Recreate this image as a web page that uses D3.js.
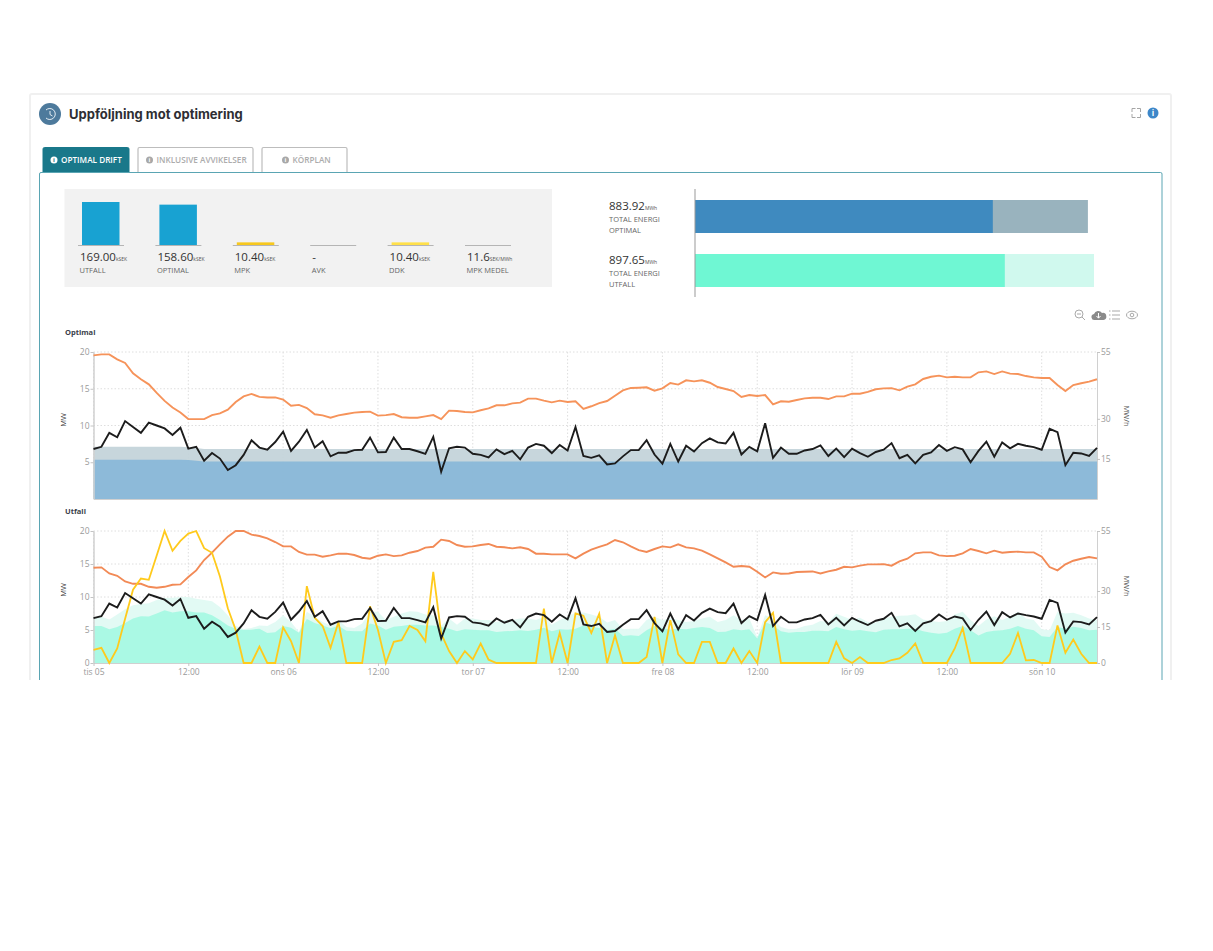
<!DOCTYPE html>
<html>
<head>
<meta charset="utf-8">
<title>Uppföljning mot optimering</title>
<script src="https://cdn.jsdelivr.net/npm/d3@7"></script>
<style>
  body { margin: 0; background: #fff; }
  svg { display: block; font-family: "Open Sans", sans-serif; }
  .tick text { fill: #9a9a9a; font-size: 8.5px; font-family: "Open Sans", sans-serif; }
  .tick line { stroke: #c4c4c4; }
  .domain { stroke: #d0d0d0; }
</style>
</head>
<body>
<div id="chart"></div>
<script>
// KPI box
const kpiNames = ["UTFALL", "OPTIMAL", "MPK", "AVK", "DDK", "MPK MEDEL"];
const kpiValues = [169.00, 158.60, 10.40, 0, 10.40, 0];
const kpiLabels = ["169.00", "158.60", "10.40", "-", "10.40", "11.6"];
const kpiUnits = ["kSEK", "kSEK", "kSEK", "", "kSEK", "SEK/MWh"];
const kpiColors = ["#18a2d2", "#18a2d2", "#f7c81e", "#f7c81e", "#ffe04a", "#ffe04a"];

// Total energy bars
const energyNames = ["OPTIMAL", "UTFALL"];
const energyTotal = [883.92, 897.65];
const energyInner = [670, 697];

// Hourly series, tis 05 00:00 onwards
const xTickHours = [0, 12, 24, 36, 48, 60, 72, 84, 96, 108, 120];
const xTickLabels = ["tis 05", "12:00", "ons 06", "12:00", "tor 07", "12:00", "fre 08", "12:00", "lör 09", "12:00", "sön 10"];

const blackLine = [
  6.8,7.1,9.0,8.4,10.6,9.8,9.0,10.4,10.0,9.6,
  8.7,9.7,6.85,7.1,5.2,6.25,5.5,3.95,4.6,6.0,
  8.0,7.0,6.7,7.75,9.15,6.55,7.8,9.4,7.0,7.85,
  5.8,6.3,6.3,6.65,6.7,8.35,6.35,6.4,8.35,6.8,
  6.8,6.5,6.15,8.45,3.7,6.9,7.1,7.0,6.15,6.0,
  5.65,6.75,6.1,6.55,5.4,7.0,7.5,7.25,6.25,7.35,
  6.6,9.8,5.85,5.6,5.95,4.7,4.85,5.8,6.65,6.65,
  8.0,6.05,4.8,7.5,5.1,7.25,6.45,7.6,8.25,7.7,
  7.55,9.0,6.05,7.1,6.5,10.3,5.6,7.0,6.15,6.15,
  6.6,6.8,7.3,5.85,6.85,5.7,6.85,6.25,5.75,6.4,
  6.7,7.6,5.55,6.0,4.85,6.0,6.35,7.35,6.55,7.05,
  6.75,5.0,6.55,7.8,5.75,7.7,6.9,7.5,7.25,7.05,
  6.7,9.55,9.1,4.6,6.3,6.2,5.85,6.95
];

const orangeOptimal = [
  53.75,54.1,54.1,52.25,50.9,47.0,44.8,42.9,39.7,36.7,
  34.2,32.4,29.9,29.9,29.9,31.4,32.05,33.4,36.3,38.4,
  39.3,38.2,38.0,38.0,37.2,34.9,35.2,34.05,31.7,31.3,
  30.4,31.3,31.8,32.3,32.55,32.7,31.2,31.4,31.8,30.6,
  30.4,30.4,30.9,31.4,29.9,33.05,32.9,32.55,32.4,33.2,
  33.9,35.05,35.05,35.8,36.05,37.55,37.55,36.8,36.15,36.8,
  36.3,36.55,33.7,34.7,35.9,36.65,38.65,40.65,41.55,41.65,
  41.8,40.55,41.4,43.4,42.8,44.4,44.0,44.4,43.5,41.9,
  41.15,40.4,38.15,38.9,38.55,38.9,35.4,36.55,36.4,37.05,
  37.65,37.9,37.9,37.4,38.4,38.4,39.4,39.4,40.05,41.05,
  41.4,41.5,40.65,42.05,42.9,44.9,45.75,46.15,45.5,45.75,
  45.5,45.5,47.4,47.75,46.75,47.75,46.9,46.75,46.0,45.5,
  45.25,45.25,42.65,40.4,42.65,43.3,43.9,44.8
];

const orangeUtfall = [
  39.7,39.85,37.3,36.35,34.0,33.0,33.0,31.75,31.35,31.75,
  32.6,32.75,35.8,38.6,42.9,46.0,49.45,52.65,55,55,
  53.5,52.9,51.95,50.4,48.6,48.6,46.25,45.15,45.15,44.3,
  44.85,45.55,45.55,45.0,43.85,43.45,44.7,45.25,44.55,44.85,
  45.95,46.65,48.05,48.45,51.4,50.85,49.15,48.45,48.6,49.15,
  49.6,48.45,48.2,47.75,48.2,47.5,45.55,45.55,45.25,45.25,
  45.25,43.6,45.55,47.2,48.35,49.45,51.25,50.3,48.6,47.05,
  46.25,47.5,48.6,48.2,49.45,48.2,47.75,46.8,45.25,43.6,
  41.9,40.1,40.4,40.1,38.0,35.65,37.75,37.2,37.3,37.9,
  38.0,38.15,37.3,38.15,38.85,40.1,39.85,40.55,41.1,41.1,
  41.2,40.55,42.35,43.45,45.7,46.1,46.1,44.85,44.55,44.7,
  45.7,47.5,46.65,45.7,46.8,45.95,46.25,46.4,46.1,46.1,
  44.3,40.0,38.6,41.1,42.6,43.45,44.15,43.6
];

const yellowLine = [
  2.0,2.3,0,2.2,6.7,11.1,12.8,12.6,16.3,20,
  17,18.5,19.6,20,17.4,16.7,13.1,8.3,5.0,0,
  0,2.5,0,0,5.4,3.3,0,11.65,6.85,5.6,
  2.3,6.2,0,0,0,8.6,5.0,0,3.2,3.45,
  5.6,5.0,3.3,13.8,4.45,1.8,0,1.8,0.55,2.95,
  0.5,0,0,0,0,0,0,8.25,0,4.55,
  0,7.5,7.15,4.55,7.45,0,4.2,0,0,0,
  0.9,7.0,0,6.5,1.3,0,0,3.2,3.2,0,
  0,2.2,0,1.8,0,6.2,7.6,0,0,0,
  0,0,0,0,3.2,0.7,0,0.9,0,0,
  0,0.45,0.7,1.55,2.95,0,0,0,0,2.2,
  5.3,0,0,0,0,0,1.4,4.55,0.4,0.45,
  0,0,5.7,1.55,3.55,1.4,0,0
];

const areaOptimalTop = [
  7.1,7.1,7.1,7.1,7.1,7.1,7.1,7.1,7.1,7.1,
  7.1,7.1,7.05,6.95,6.8,6.8,6.8,6.8,6.8,6.8,
  6.8,6.8,6.8,6.8,6.8,6.8,6.8,6.8,6.8,6.8,
  6.8,6.8,6.8,6.8,6.8,6.8,6.8,6.8,6.8,6.8,
  6.8,6.8,6.8,6.8,6.8,6.8,6.8,6.8,6.8,6.8,
  6.8,6.8,6.8,6.8,6.8,6.8,6.8,6.8,6.8,6.8,
  6.8,6.8,6.8,6.8,6.8,6.8,6.8,6.8,6.8,6.8,
  6.8,6.8,6.8,6.8,6.8,6.8,6.8,6.8,6.8,6.8,
  6.8,6.8,6.8,6.8,6.8,6.8,6.8,6.8,6.8,6.8,
  6.8,6.8,6.8,6.8,6.8,6.8,6.8,6.8,6.8,6.8,
  6.8,6.8,6.8,6.8,6.8,6.8,6.8,6.8,6.8,6.8,
  6.8,6.8,6.8,6.8,6.8,6.8,6.8,6.8,6.8,6.8,
  6.8,6.8,6.8,6.8,6.8,6.8,6.8,6.8
];

const areaOptimalLow = [
  5.35,5.35,5.35,5.35,5.35,5.35,5.35,5.35,5.35,5.35,
  5.35,5.35,5.3,5.2,5.1,5.1,5.1,5.1,5.1,5.1,
  5.1,5.1,5.1,5.1,5.1,5.1,5.1,5.1,5.1,5.1,
  5.1,5.1,5.1,5.1,5.1,5.1,5.1,5.1,5.1,5.1,
  5.1,5.1,5.1,5.1,5.1,5.1,5.1,5.1,5.1,5.1,
  5.1,5.1,5.1,5.1,5.1,5.1,5.1,5.1,5.1,5.1,
  5.1,5.1,5.1,5.1,5.1,5.1,5.1,5.1,5.1,5.1,
  5.1,5.1,5.1,5.1,5.1,5.1,5.1,5.1,5.1,5.1,
  5.1,5.1,5.1,5.1,5.1,5.1,5.1,5.1,5.1,5.1,
  5.1,5.1,5.1,5.1,5.1,5.1,5.1,5.1,5.1,5.1,
  5.1,5.1,5.1,5.1,5.1,5.1,5.1,5.1,5.1,5.1,
  5.1,5.1,5.1,5.1,5.1,5.1,5.1,5.1,5.1,5.1,
  5.1,5.1,5.1,5.1,5.1,5.1,5.1,5.1
];

const areaUtfallTop = [
  6.95,7.0,6.6,7.35,8.15,8.75,8.95,9.05,9.55,9.85,
  9.9,10.0,10.0,9.75,9.55,9.35,8.5,7.25,5.6,5.15,
  5.3,5.7,5.6,6.2,7.25,6.2,4.7,7.75,7.0,6.2,
  5.7,6.5,5.45,5.3,6.0,7.75,7.75,6.5,7.0,7.5,
  7.85,7.75,7.35,7.25,5.7,6.75,5.8,6.75,6.75,6.5,
  6.5,6.2,6.5,6.5,6.75,6.75,6.5,7.0,5.8,6.5,
  7.0,7.65,7.65,7.35,7.0,6.15,6.5,5.1,5.2,5.2,
  6.5,7.0,6.5,6.75,6.5,6.2,6.35,6.75,7.0,6.2,
  6.5,7.25,6.5,6.75,3.95,7.25,6.75,5.45,5.1,5.2,
  5.6,5.8,6.35,6.2,7.45,7.0,6.5,6.85,6.2,6.15,
  6.75,7.0,7.15,7.2,7.4,6.6,6.35,6.2,6.35,7.35,
  7.75,6.5,5.6,6.6,7.1,6.5,7.0,7.75,6.75,6.5,
  5.1,4.95,7.75,7.5,7.6,7.25,6.75,6.5
];

const areaUtfallLow = [
  5.6,5.6,5.1,5.45,6.05,6.75,7.1,7.05,7.5,8.0,
  7.65,7.85,7.85,7.65,7.65,7.25,6.5,5.7,5.2,5.0,
  5.05,5.2,4.55,4.65,5.6,5.35,4.6,6.65,6.05,5.7,
  5.25,5.65,4.9,4.8,4.8,6.0,5.7,5.05,5.5,5.6,
  5.8,5.8,5.7,5.7,5.45,5.2,4.8,5.1,5.05,4.95,
  4.95,4.7,4.8,4.85,4.95,4.85,5.05,5.35,4.8,5.1,
  5.05,5.2,5.7,5.5,5.3,4.95,5.2,4.1,4.2,4.1,
  4.95,5.6,5.3,5.05,5.2,5.1,5.3,5.45,5.3,4.7,
  4.75,5.1,4.95,5.1,3.7,6.2,5.7,4.8,4.6,4.7,
  4.7,4.9,4.9,4.8,5.45,5.1,4.9,5.0,4.8,4.65,
  5.05,5.1,5.1,5.2,5.2,4.8,4.6,4.45,4.6,5.2,
  5.6,4.95,4.15,4.7,4.9,4.95,5.2,5.6,5.2,4.95,
  4.05,3.95,5.45,5.2,5.5,5.3,4.95,5.05
];

const svg = d3.select("#chart").append("svg")
  .attr("width", 1213)
  .attr("height", 951);

// Card, tabs and panel (the screenshot is cut off at the bottom of the card)
const cardBottom = 680;
svg.append("path")
  .attr("d", `M30,${cardBottom}V96Q30,94 32,94H1169Q1171,94 1171,96V${cardBottom}`)
  .attr("fill", "none").attr("stroke", "#f0f0f0").attr("stroke-width", 2);

svg.append("circle").attr("cx", 50).attr("cy", 114).attr("r", 11).attr("fill", "#4d7a9c");
svg.append("path").attr("d", "M46,110a5.5,5.5 0 1 1 0,8M50,111v3.5l2.5,1.5")
  .attr("fill", "none").attr("stroke", "#e4edf3").attr("stroke-width", 1);
svg.append("text").attr("x", 69).attr("y", 119)
  .style("font-family", "Inter, sans-serif").style("font-weight", 700).style("font-size", "13px")
  .attr("fill", "#2e2e33").text("Uppföljning mot optimering");

// Top right icons
svg.append("path").attr("d", "M1132,112v-3.5h3.5M1137,108.5h3.5v3.5M1140.5,114v3.5h-3.5M1135.5,117.5h-3.5v-3.5")
  .attr("fill", "none").attr("stroke", "#a5a5a5").attr("stroke-width", 1);
svg.append("circle").attr("cx", 1153).attr("cy", 113).attr("r", 5.5).attr("fill", "#3d87c9");
svg.append("text").attr("x", 1153).attr("y", 116).attr("text-anchor", "middle")
  .style("font-size", "8px").style("font-weight", 700).attr("fill", "#fff").text("i");

const tabs = [
  { label: "OPTIMAL DRIFT", x: 43, w: 86, active: true },
  { label: "INKLUSIVE AVVIKELSER", x: 138, w: 115, active: false },
  { label: "KÖRPLAN", x: 262, w: 85, active: false }
];

svg.append("path")
  .attr("d", `M39.5,${cardBottom}V174Q39.5,172.5 41,172.5H1160.5Q1162,172.5 1162,174V${cardBottom}`)
  .attr("fill", "none").attr("stroke", "#5aa5b3").attr("stroke-width", 1);

tabs.forEach(t => {
  const g = svg.append("g");
  g.append("path")
    .attr("d", `M${t.x},172V149Q${t.x},147.5 ${t.x + 1.5},147.5H${t.x + t.w - 1.5}Q${t.x + t.w},147.5 ${t.x + t.w},149V172`)
    .attr("fill", t.active ? "#19788a" : "#fff")
    .attr("stroke", t.active ? "#19788a" : "#bdbdbd")
    .attr("stroke-width", t.active ? 1 : 1.2);
  const w = t.label === "KÖRPLAN" ? 34 : (t.active ? 60 : 88);
  const iconX = t.x + (t.w - w - 11) / 2 + 3.5;
  g.append("circle").attr("cx", iconX).attr("cy", 160).attr("r", 3.5)
    .attr("fill", t.active ? "#fff" : "#a8a8a8");
  g.append("text").attr("x", iconX).attr("y", 162.3).attr("text-anchor", "middle")
    .style("font-size", "6px").style("font-weight", 700)
    .attr("fill", t.active ? "#19788a" : "#fff").text("i");
  g.append("text").attr("x", iconX + 7).attr("y", 162.7)
    .style("font-size", "8.2px").style("font-weight", 600)
    .attr("fill", t.active ? "#fff" : "#acacac").text(t.label);
});

// KPI box
svg.append("rect").attr("x", 64.5).attr("y", 189).attr("width", 487.5).attr("height", 98).attr("fill", "#f2f2f2");

const kpiX = d3.scaleBand().domain(kpiNames).range([78, 542.4]).padding(0);
const kpiY = d3.scaleLinear().domain([0, 169]).range([245, 202]);

kpiNames.forEach((name, i) => {
  const x0 = kpiX(name);
  const g = svg.append("g");
  if (kpiValues[i] > 0) {
    g.append("rect").attr("x", x0 + 4).attr("width", 37.5)
      .attr("y", kpiY(kpiValues[i])).attr("height", kpiY(0) - kpiY(kpiValues[i]))
      .attr("fill", kpiColors[i]);
  }
  g.append("line").attr("x1", x0).attr("x2", x0 + 46).attr("y1", kpiY(0) + 0.5).attr("y2", kpiY(0) + 0.5)
    .attr("stroke", "#b5b5b5").attr("stroke-width", 1);
  const val = g.append("text").attr("x", x0 + 2).attr("y", 261)
    .style("font-size", "11.5px").style("font-weight", 500).attr("fill", "#333");
  val.append("tspan").text(kpiLabels[i]);
  val.append("tspan").style("font-size", "5px").style("font-weight", 400).attr("fill", "#555").text(kpiUnits[i]);
  g.append("text").attr("x", x0 + 1.5).attr("y", 273)
    .style("font-size", "7.5px").attr("fill", "#666").text(name);
});

// Total energy bars
const energyX = d3.scaleLinear().domain([0, 897.65]).range([695, 1094]);
const energyY = d3.scaleBand().domain(energyNames).range([200, 287]).paddingInner(21 / 54).paddingOuter(0);
const energyColors = { OPTIMAL: ["#99b3be", "#3f8abf"], UTFALL: ["#d0f9ee", "#6ff7d3"] };

energyNames.forEach((name, i) => {
  const y = energyY(name), h = energyY.bandwidth();
  svg.append("rect").attr("x", energyX(0)).attr("y", y).attr("height", h)
    .attr("width", energyX(energyTotal[i]) - energyX(0)).attr("fill", energyColors[name][0]);
  svg.append("rect").attr("x", energyX(0)).attr("y", y).attr("height", h)
    .attr("width", energyX(energyInner[i]) - energyX(0)).attr("fill", energyColors[name][1]);

  const val = svg.append("text").attr("x", 609).attr("y", y + 10)
    .style("font-size", "11.5px").style("font-weight", 500).attr("fill", "#333");
  val.append("tspan").text(energyTotal[i].toFixed(2));
  val.append("tspan").style("font-size", "5px").style("font-weight", 400).attr("fill", "#555").text("MWh");
  svg.append("text").attr("x", 609).attr("y", y + 22)
    .style("font-size", "7.5px").attr("fill", "#666").text("TOTAL ENERGI");
  svg.append("text").attr("x", 609).attr("y", y + 33)
    .style("font-size", "7.5px").attr("fill", "#666").text(name);
});
svg.append("line").attr("x1", energyX(0)).attr("x2", energyX(0)).attr("y1", 189).attr("y2", 297)
  .attr("stroke", "#999").attr("stroke-width", 1);

// Toolbar icons
const tool = svg.append("g").attr("fill", "none").attr("stroke", "#a9a9a9").attr("stroke-width", 1);
tool.append("circle").attr("cx", 1079).attr("cy", 314).attr("r", 4);
tool.append("path").attr("d", "M1077,314h4M1082,317l3,3");
svg.append("path").attr("d", "M1095,320a3,3 0 0 1 -1,-6a4.5,4.5 0 0 1 8,-1a3.5,3.5 0 0 1 1.5,7z").attr("fill", "#8a8a8a");
svg.append("path").attr("d", "M1098.5,313v5M1096.5,316l2,2.2l2,-2.2").attr("fill", "none").attr("stroke", "#fff").attr("stroke-width", 1);
tool.append("path").attr("d", "M1112,311h8M1112,315h8M1112,319h8M1109,311h1.5M1109,315h1.5M1109,319h1.5");
tool.append("ellipse").attr("cx", 1132).attr("cy", 315).attr("rx", 5.5).attr("ry", 3.8);
tool.append("circle").attr("cx", 1132).attr("cy", 315).attr("r", 1.8);

// Shared scales
const x = d3.scaleLinear().domain([0, 127]).range([93.5, 1097]);
const hours = blackLine.map((d, i) => i);

function drawChart(cfg) {
  const y = d3.scaleLinear().domain([0, 20]).range([cfg.bottom, cfg.top]);
  const yRight = d3.scaleLinear().domain([0, 55]).range([cfg.bottom, cfg.top]);

  svg.append("text").attr("x", 65).attr("y", cfg.top - 17)
    .style("font-size", "7.5px").style("font-weight", 700).attr("fill", "#3a3f4a").text(cfg.title);

  // Grid
  const grid = svg.append("g").attr("stroke", "#dedede").attr("stroke-dasharray", "1.5,2").attr("stroke-width", 1);
  [5, 10, 15, 20].forEach(v => {
    grid.append("line").attr("x1", x(0)).attr("x2", x(127)).attr("y1", y(v)).attr("y2", y(v));
  });
  xTickHours.forEach(h => {
    grid.append("line").attr("x1", x(h)).attr("x2", x(h)).attr("y1", cfg.top).attr("y2", cfg.bottom);
  });

  // Areas, the larger one behind
  const area = d3.area().x(i => x(i)).y0(y(0));
  svg.append("path").datum(hours)
    .attr("d", area.y1(i => y(cfg.areaTop[i])))
    .attr("fill", cfg.areaColors[0]).attr("fill-opacity", 0.92);
  svg.append("path").datum(hours)
    .attr("d", area.y1(i => y(cfg.areaLow[i])))
    .attr("fill", cfg.areaColors[1]).attr("fill-opacity", 0.92);

  // Axes
  const left = d3.axisLeft(y).tickValues(cfg.leftTicks).tickSize(3).tickSizeOuter(0).tickPadding(1);
  const right = d3.axisRight(yRight).tickValues(cfg.rightTicks).tickSize(3).tickSizeOuter(0).tickPadding(1);
  const gl = svg.append("g").attr("transform", `translate(${x(0)},0)`).call(left);
  gl.select(".domain").attr("stroke", "#bdbdbd").attr("stroke-width", 1.5);
  svg.append("g").attr("transform", `translate(${x(127)},0)`).call(right);

  const bottom = d3.axisBottom(x).tickValues(xTickHours).tickSize(cfg.showLabels ? 3 : 0).tickSizeOuter(0)
    .tickFormat((d, i) => cfg.showLabels ? xTickLabels[i] : "");
  svg.append("g").attr("transform", `translate(0,${cfg.bottom})`).call(bottom);

  svg.append("text").attr("transform", `translate(66,${cfg.unitLeftY}) rotate(-90)`)
    .attr("text-anchor", "middle").style("font-size", "7.5px").attr("fill", "#444").text("MW");
  svg.append("text").attr("transform", `translate(1124,${cfg.unitRightY}) rotate(90)`)
    .attr("text-anchor", "middle").style("font-size", "7.5px").attr("fill", "#555").text("MW/h");

  // Lines
  const lineRight = d3.line().x(i => x(i)).y(i => yRight(cfg.orange[i]));
  const lineLeft = values => d3.line().x(i => x(i)).y(i => y(values[i]));

  svg.append("path").datum(hours).attr("d", lineRight)
    .attr("fill", "none").attr("stroke", cfg.orangeColor).attr("stroke-width", 1.9);
  if (cfg.yellow) {
    svg.append("path").datum(hours).attr("d", lineLeft(cfg.yellow))
      .attr("fill", "none").attr("stroke", "#ffca1c").attr("stroke-width", 1.8);
  }
  svg.append("path").datum(hours).attr("d", lineLeft(blackLine))
    .attr("fill", "none").attr("stroke", "#1c1c1c").attr("stroke-width", 1.9);
}

drawChart({
  title: "Optimal", top: 352, bottom: 499, unitLeftY: 420, unitRightY: 416,
  areaTop: areaOptimalTop, areaLow: areaOptimalLow, areaColors: ["#c2d2d9", "#88b7d8"],
  orange: orangeOptimal, orangeColor: "#f6935a",
  leftTicks: [5, 10, 15, 20], rightTicks: [15, 30, 55], showLabels: false
});

drawChart({
  title: "Utfall", top: 531, bottom: 663, unitLeftY: 590, unitRightY: 586,
  areaTop: areaUtfallTop, areaLow: areaUtfallLow, areaColors: ["#dffaf3", "#a5f9e2"],
  orange: orangeUtfall, orangeColor: "#f28a56", yellow: yellowLine,
  leftTicks: [0, 5, 10, 15, 20], rightTicks: [0, 15, 30, 55], showLabels: true
});
</script>
</body>
</html>
